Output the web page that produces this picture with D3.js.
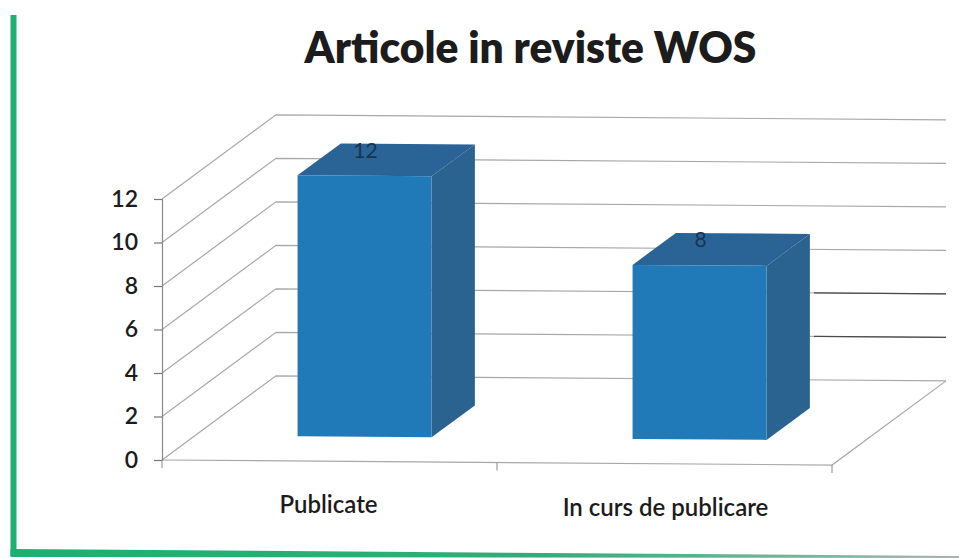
<!DOCTYPE html>
<html>
<head>
<meta charset="utf-8">
<script src="https://cdn.jsdelivr.net/npm/d3@7"></script>
<style>
  html, body { margin: 0; padding: 0; background: #fff; }
  text { font-family: Lato, "Open Sans", sans-serif; fill: #1c1c1c; }
</style>
</head>
<body>
<div id="chart"></div>
<script>
const categories = ["Publicate", "In curs de publicare"];
const values = [12, 8];
const yTicks = [0, 2, 4, 6, 8, 10, 12];
const chartTitle = "Articole in reviste WOS";

const width = 959,
  height = 558;

const svg = d3
  .select("#chart")
  .append("svg")
  .attr("width", width)
  .attr("height", height)
  .style("display", "block");

const x = d3
  .scaleBand()
  .domain(categories)
  .range([164, 834])
  .paddingInner(0.6)
  .paddingOuter(0.3);

const y = d3.scaleLinear().domain([0, 12]).range([460, 199]);

// oblique projection of the 3d box: depth goes 0 (front) to 1 (back wall)
const depthX = 114,
  depthY = 85,
  tilt = 0.0075,
  axisX = 162,
  axisEnd = 832;

function project(px, v, z) {
  const sx = px + z * depthX;
  return [sx, y(v) - z * depthY + (sx - axisX) * tilt];
}

function line(points) {
  return d3.line()(points);
}

function poly(points) {
  return d3.line()(points) + "Z";
}

// frame, the bottom edge runs off the page and fades to the right
const frameGrad = svg
  .append("linearGradient")
  .attr("id", "frameGrad")
  .attr("gradientUnits", "userSpaceOnUse")
  .attr("x1", 10)
  .attr("x2", 959)
  .attr("y1", 0)
  .attr("y2", 0);
frameGrad.append("stop").attr("offset", "0%").attr("stop-color", "#1cb071");
frameGrad.append("stop").attr("offset", "55%").attr("stop-color", "#2fae78");
frameGrad.append("stop").attr("offset", "100%").attr("stop-color", "#a3b8ad");

svg
  .append("rect")
  .attr("x", 10.5)
  .attr("y", 15)
  .attr("width", 6)
  .attr("height", 541)
  .attr("fill", "#1cb071");
svg
  .append("path")
  .attr("fill", "url(#frameGrad)")
  .attr("d", poly([[10.5, 549], [959, 556], [959, 558], [10.5, 557]]));

// walls
const grid = svg
  .append("g")
  .attr("fill", "none")
  .attr("stroke", "#a8a8a8")
  .attr("stroke-width", 1.2);

grid
  .selectAll(".grid")
  .data(yTicks)
  .enter()
  .append("path")
  .attr("class", "grid")
  .attr("d", function (d) {
    return line([
      project(axisX, d, 0),
      project(axisX, d, 1),
      project(axisEnd, d, 1)
    ]);
  });

grid
  .append("path")
  .attr(
    "d",
    line([
      project(axisEnd, 0, 1),
      project(axisEnd, 0, 0),
      project(axisX, 0, 0)
    ])
  );

// darker pieces of gridlines to the right of second bar
svg
  .selectAll(".dark")
  .data([2, 4])
  .enter()
  .append("path")
  .attr("class", "dark")
  .attr("fill", "none")
  .attr("stroke", "#4a4a4a")
  .attr("stroke-width", 1.3)
  .attr("d", function (d) {
    return line([project(700, d, 1), project(axisEnd, d, 1)]);
  });

// axes ticks
const yAxis = d3
  .axisLeft(y)
  .tickValues(yTicks)
  .tickSize(8)
  .tickPadding(16);

const yAxisG = svg
  .append("g")
  .attr("transform", `translate(${axisX},0)`)
  .call(yAxis);
yAxisG.selectAll("path").attr("stroke", "#888").attr("stroke-width", 1.2);
yAxisG.selectAll("line").attr("stroke", "#777").attr("stroke-width", 1.2);
yAxisG.selectAll("text").style("font-size", "23px").style("font-weight", 600);

const xTickPos = [axisX, axisX + x.step(), axisEnd];
svg
  .selectAll(".xtick")
  .data(xTickPos)
  .enter()
  .append("path")
  .attr("class", "xtick")
  .attr("stroke", "#888")
  .attr("d", function (d) {
    const p = project(d, 0, 0);
    return line([p, [p[0], p[1] + 8]]);
  });

// bars
const zFront = 0.29,
  zBack = 0.67;

const bars = svg
  .selectAll(".bar")
  .data(values)
  .enter()
  .append("g")
  .attr("class", "bar");

bars
  .append("path")
  .attr("fill", "#2a6496")
  .attr("d", function (d, i) {
    const l = x(categories[i]),
      r = l + x.bandwidth();
    return poly([
      project(l, d, zFront),
      project(l, d, zBack),
      project(r, d, zBack),
      project(r, d, zFront)
    ]);
  });

bars
  .append("path")
  .attr("fill", "#2a6290")
  .attr("d", function (d, i) {
    const r = x(categories[i]) + x.bandwidth();
    return poly([
      project(r, d, zFront),
      project(r, d, zBack),
      project(r, 0, zBack),
      project(r, 0, zFront)
    ]);
  });

bars
  .append("path")
  .attr("fill", "#217ab8")
  .attr("d", function (d, i) {
    const l = x(categories[i]),
      r = l + x.bandwidth();
    return poly([
      project(l, d, zFront),
      project(r, d, zFront),
      project(r, 0, zFront),
      project(l, 0, zFront)
    ]);
  });

// value labels on the top face
bars
  .append("text")
  .attr("x", function (d, i) {
    return project(x(categories[i]) + x.bandwidth() / 2, d, zFront)[0] + 1;
  })
  .attr("y", function (d, i) {
    return project(x(categories[i]) + x.bandwidth() / 2, d, zBack)[1] + 14;
  })
  .attr("text-anchor", "middle")
  .style("font-size", "21px")
  .style("fill", "#17344f")
  .text(function (d) {
    return d;
  });

// category labels
svg
  .selectAll(".cat")
  .data(categories)
  .enter()
  .append("text")
  .attr("class", "cat")
  .attr("x", function (d) {
    return x(d) + x.bandwidth() / 2 + (d === categories[0] ? -3 : -1);
  })
  .attr("y", function (d, i) {
    return 513 + i * 3;
  })
  .attr("text-anchor", "middle")
  .style("font-size", "24px")
  .style("font-weight", 600)
  .text(function (d) {
    return d;
  });

svg
  .append("text")
  .attr("x", 530.5)
  .attr("y", 63)
  .attr("text-anchor", "middle")
  .style("font-size", "42.5px")
  .style("font-weight", 800)
  .text(chartTitle);
</script>
</body>
</html>
